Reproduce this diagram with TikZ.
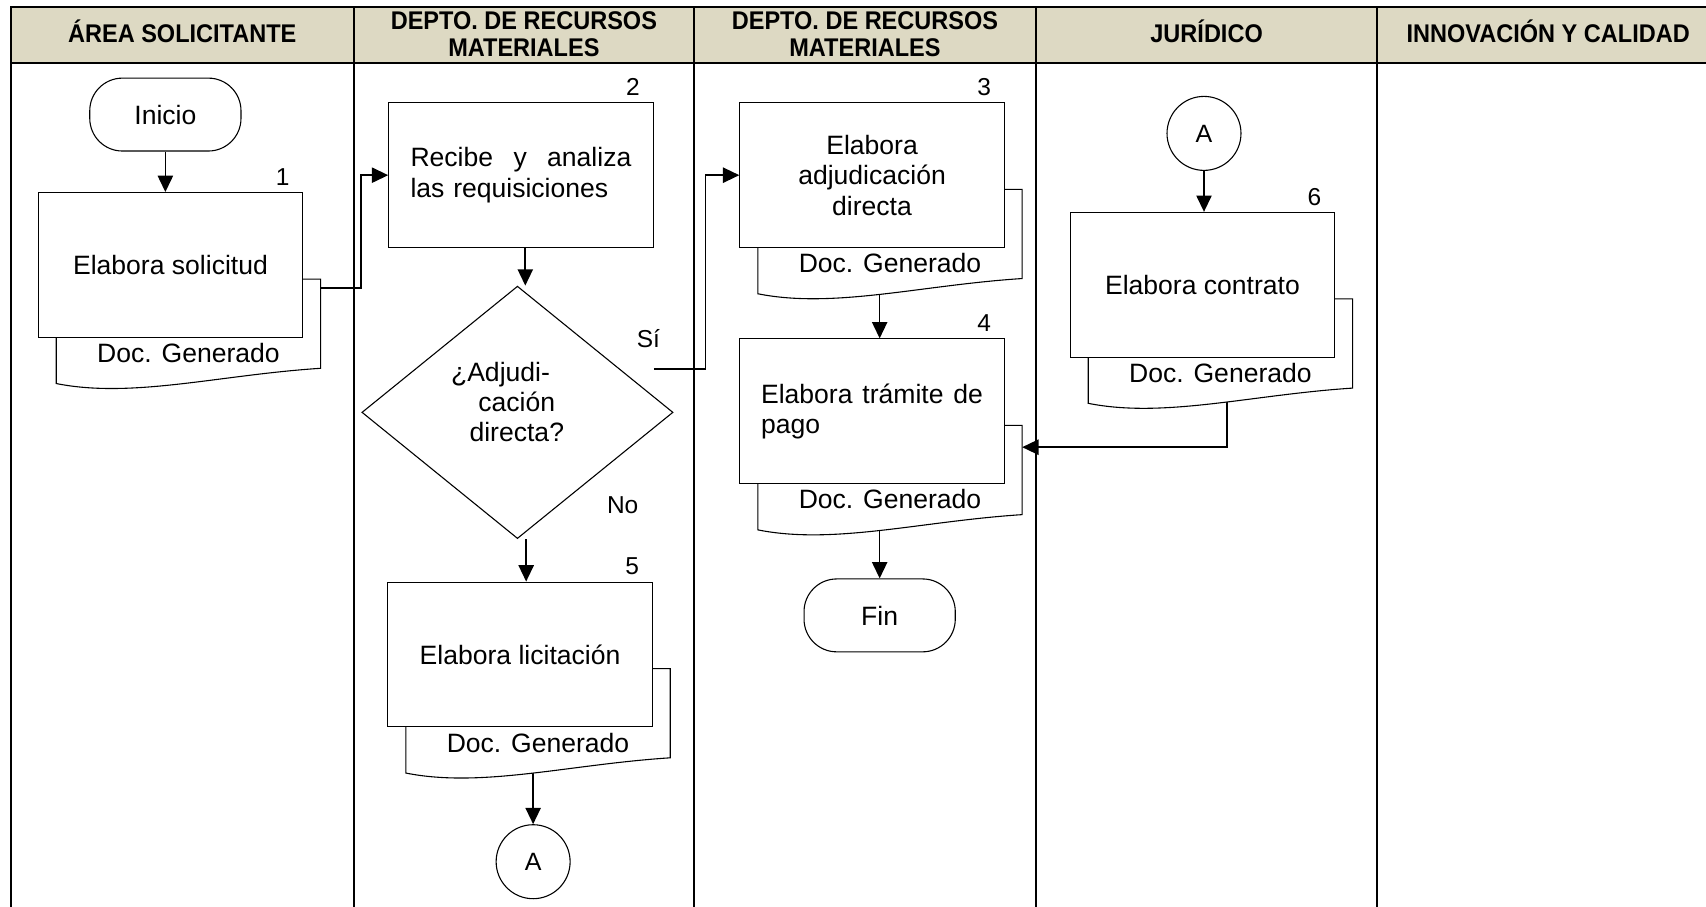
\documentclass[tikz,border=0pt]{standalone}
\usepackage{fontspec}
\setmainfont{Liberation Sans}
\newfontfamily\hdrfont[FakeStretch=0.92]{Liberation Sans}
\usetikzlibrary{shapes.geometric,arrows.meta}
\definecolor{hdrbg}{RGB}{221,217,195}
\pgfdeclarelayer{lanes}
\pgfdeclarelayer{conn}
\pgfdeclarelayer{docs}
\pgfsetlayers{lanes,conn,docs,main}
\newcommand{\docgen}[1]{%
  \begin{pgfonlayer}{docs}
    \begin{scope}[shift={(#1.north west)}]
      \draw[shp] (17,80) -- (260,80) -- (260,162) .. controls (167,168) and (87,190) .. (17,176) -- cycle;
    \end{scope}
  \end{pgfonlayer}
  \begin{scope}[shift={(#1.north west)}]
    \node[txt] at (138.5,148) {Doc. Generado};
    \coordinate (#1r) at (260,88);
    \coordinate (#1d) at (260,100);
  \end{scope}}
\begin{document}
\begin{tikzpicture}[x=1pt,y=-1pt,
  txt/.style={font=\fontsize{24.4}{28}\selectfont, inner sep=0pt},
  box/.style={draw, line width=1pt, fill=white, minimum width=243pt, minimum height=133pt, inner sep=0pt, font=\fontsize{24.4}{28}\selectfont, align=center},
  term/.style={draw, line width=1pt, fill=white, rounded corners=30pt, minimum width=139pt, minimum height=67pt, inner sep=0pt, font=\fontsize{24.4}{28}\selectfont},
  conncirc/.style={circle, draw, line width=1pt, fill=white, minimum size=68pt, inner sep=0pt, font=\fontsize{23}{27}\selectfont},
  dec/.style={diamond, draw, line width=1pt, fill=white, minimum width=286pt, minimum height=232pt, inner sep=0pt},
  num/.style={font=\fontsize{22.5}{25}\selectfont, inner sep=0pt},
  hdr/.style={font=\hdrfont\bfseries\fontsize{23.5}{25}\selectfont, align=center, inner sep=0pt},
  arr/.style={line width=1.5pt, -{Triangle[length=15pt,width=14pt]}},
  lane/.style={line width=1.8pt},
  shp/.style={draw, line width=1pt, fill=white}]
\path[use as bounding box] (0,0) rectangle (1568,833);

% lanes and header
\begin{pgfonlayer}{lanes}
  \fill[hdrbg] (10,6) rectangle (1580,57.5);
  \draw[lane] (1580,6) -- (10,6) -- (10,840);
  \draw[lane] (10,57.5) -- (1580,57.5);
  \foreach \x in {325,638,952,1266} \draw[lane] (\x,6) -- (\x,840);
\end{pgfonlayer}
\node[hdr, anchor=base] (h1) at (167.5,39.4) {ÁREA SOLICITANTE};
\node[hdr] (h2) at (481.5,31.5) {DEPTO. DE RECURSOS\\MATERIALES};
\node[hdr] (h3) at (795,31.5) {DEPTO. DE RECURSOS\\MATERIALES};
\node[hdr, anchor=base] (h4) at (1109,39.4) {JURÍDICO};
\node[hdr, anchor=base] (h5) at (1423,39.4) {INNOVACIÓN Y CALIDAD};

% nodes
\node[term] (ini) at (152,105.3) {Inicio};
\node[box] (b1) at (156.7,243.5) {Elabora solicitud};
\node[box, text width=203pt, align=left] (b2) at (478.8,161) {Recibe\hfill y\hfill analiza\\las requisiciones};
\node[dec] (dia) at (475.6,379) {};
\node[txt, align=center, font=\fontsize{24.4}{27.6}\selectfont] (dtxt) at (475,369.2) {¿Adjudi-\rule{30pt}{0pt}\\cación\\directa?};
\node[box] (b3) at (801.5,161) {Elabora\\adjudicación\\directa};
\node[box, text width=204pt, align=left] (b4) at (801.5,378) {Elabora\hfill trámite\hfill de\\pago};
\node[term] (fin) at (808.5,565.6) {Fin};
\node[box] (b5) at (478,601.5) {Elabora licitación};
\node[conncirc] (cA1) at (490,792) {A};
\node[conncirc] (cA2) at (1106.6,122.6) {A};
\node[box] (b6) at (1105.2,261.7) {Elabora contrato};

% step numbers
\node[num] (n1) at ([shift={(-19,-14)}]b1.north east) {1};
\node[num] (n2) at ([shift={(-19,-14)}]b2.north east) {2};
\node[num] (n3) at ([shift={(-19,-14)}]b3.north east) {3};
\node[num] (n4) at ([shift={(-19,-14)}]b4.north east) {4};
\node[num] (n5) at ([shift={(-19,-14)}]b5.north east) {5};
\node[num] (n6) at ([shift={(-19,-14)}]b6.north east) {6};

% decision labels
\node[num] (lsi) at (596,311) {Sí};
\node[num] (lno) at (572.3,464) {No};
\coordinate (si) at (601,339);

% documents
\docgen{b1}
\docgen{b3}
\docgen{b4}
\docgen{b5}
\docgen{b6}

% connectors
\begin{pgfonlayer}{conn}
  \draw[arr] (ini.south) -- (ini.south |- b1.north);
  \draw[arr] (b1r) -| ([xshift=-25pt]b2.west) -- (b2.west);
  \draw[arr] ([xshift=4pt]b2.south) -- ([xshift=4pt]b2.south |- dia.north);
  \draw[arr] (si) -| ([xshift=-31pt]b3.west) -- (b3.west);
  \draw[arr] ([xshift=8pt]dia.south) -- ([xshift=8pt]dia.south |- b5.north);
  \draw[arr] (cA1.north |- b5.south) -- (cA1.north);
  \draw[arr] (b3.south -| fin.north) -- (b4.north -| fin.north);
  \draw[arr] (b4.south -| fin.north) -- (fin.north);
  \draw[arr] (cA2.south) -- (cA2.south |- b6.north);
  \draw[arr] ([xshift=22.5pt]b6.south) |- (b4d);
\end{pgfonlayer}
\end{tikzpicture}
\end{document}
